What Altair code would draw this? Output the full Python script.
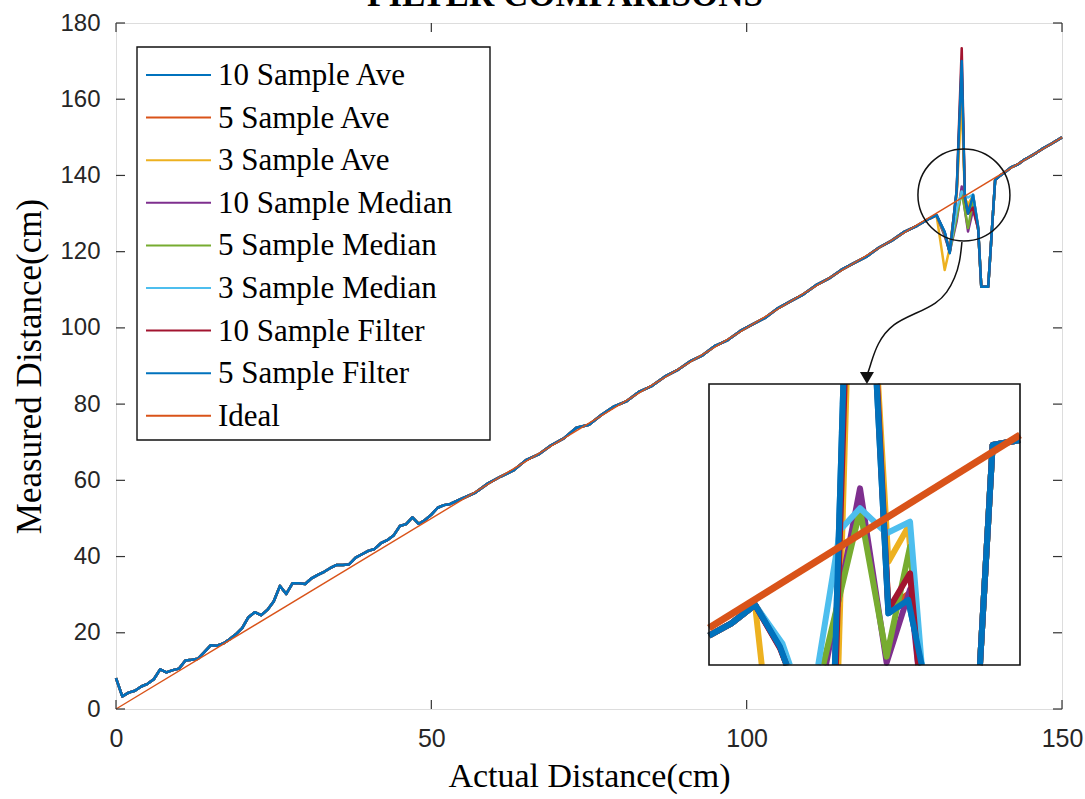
import altair as alt
import pandas as pd

# ---------------- data ----------------
TITLE = "FILTER COMPARISONS"
NAMES = ["10 Sample Ave", "5 Sample Ave", "3 Sample Ave", "10 Sample Median",
         "5 Sample Median", "3 Sample Median", "10 Sample Filter", "5 Sample Filter", "Ideal"]
COLORS = ["#0072BD", "#D95319", "#EDB120", "#7E2F8E", "#77AC30", "#4DBEEE",
          "#A2142F", "#0072BD", "#D95319"]

BASE_X = list(range(0, 54))
BASE_Y = [8.1, 3.3, 4.3, 4.8, 5.9, 6.6, 7.8, 10.4, 9.6, 10.2, 10.6, 12.7, 12.9, 13.2,
          14.9, 16.7, 16.6, 17.2, 18.3, 19.6, 21.2, 24.1, 25.4, 24.6, 26.0, 28.2, 32.3,
          30.2, 33.0, 33.0, 32.8, 34.3, 35.2, 36.0, 37.0, 37.8, 37.8, 38.0, 39.7, 40.6,
          41.5, 42.0, 43.5, 44.3, 45.5, 48.0, 48.5, 50.3, 48.6, 49.6, 51.0, 52.8, 53.5, 53.8]
MID_X = [55, 57, 59, 61, 63, 65, 67, 69, 71, 73, 75, 77, 79, 81, 83, 85, 87, 89, 91, 93,
         95, 97, 99, 101, 103, 105, 107, 109, 111, 113, 115, 117, 119, 121, 123, 125, 127,
         129, 130.1]
MID_Y = [55.3, 56.8, 59.2, 61.0, 62.6, 65.3, 66.8, 69.2, 71.0, 73.8, 74.6, 77.2, 79.4,
         80.8, 83.3, 84.8, 87.2, 88.9, 91.2, 92.8, 95.3, 96.8, 99.2, 101.0, 102.7, 105.2,
         107.0, 108.8, 111.2, 112.9, 115.2, 117.0, 118.7, 121.1, 122.9, 125.2, 126.8,
         128.7, 129.6]
SPIKE_X = [131.4, 132.2, 133.3, 134.1, 134.6, 135.1, 135.9, 136.7, 137.2, 138.3, 139.4]
SPIKE_Y = {
    "10 Sample Ave":    [125.0, 119.8, 136.0, 168.0, 134.0, 130.0, 134.5, 126.0, 110.8, 110.8, 138.8],
    "5 Sample Ave":     [124.5, 120.5, 135.5, 166.0, 134.5, 131.0, 134.8, 126.5, 110.8, 110.8, 138.8],
    "3 Sample Ave":     [115.2, 121.0, 135.0, 160.0, 134.0, 132.4, 134.7, 126.0, 110.8, 110.8, 138.8],
    "10 Sample Median": [124.0, 120.0, 128.0, 137.1, 131.0, 125.3, 131.0, 126.0, 110.8, 110.8, 138.8],
    "5 Sample Median":  [124.5, 120.0, 129.0, 135.7, 131.0, 126.2, 133.4, 126.0, 110.8, 110.8, 138.8],
    "3 Sample Median":  [125.0, 120.5, 131.0, 135.8, 134.8, 134.2, 135.0, 126.0, 110.8, 110.8, 138.8],
    "10 Sample Filter": [125.0, 119.8, 136.0, 173.4, 134.0, 130.0, 131.6, 126.0, 110.8, 110.8, 138.8],
    "5 Sample Filter":  [125.2, 119.6, 136.2, 170.0, 134.4, 130.0, 134.9, 126.6, 110.8, 110.8, 138.8],
}
TAIL_X = [140, 141, 142, 143, 144, 145, 146, 147, 148, 149, 150]
TAIL_Y = [139.7, 140.9, 142.2, 142.9, 144.1, 145.0, 146.0, 147.1, 148.0, 149.0, 150.0]

IDEAL_X = [0, 150]
IDEAL_Y = [0, 150]

X_TICKS = [0, 50, 100, 150]
Y_TICKS = [0, 20, 40, 60, 80, 100, 120, 140, 160, 180]

CIRCLE_X = [134.45]
CIRCLE_Y = [134.9]
ARROW_X = [134.13, 133.82, 133.03, 131.76, 130.17, 127.0, 123.2, 120.66, 119.55, 119.07]
ARROW_Y = [122.54, 117.29, 113.09, 109.16, 106.53, 103.9, 101.3, 96.0, 89.74, 87.5]
ARROW_HEAD_X = [119.07]
ARROW_HEAD_Y = [86.85]

# inset (zoomed view)
INSET_X_RANGE = [128.1, 140.6]
INSET_Y_RANGE = [125.7, 143.9]
INSET_LEFT_X = [128.1, 129.0, 129.95]
INSET_LEFT_Y = [127.6, 128.4, 129.6]
INSET_RIGHT_X = [138.99, 139.5, 140.6]
INSET_RIGHT_Y = [125.7, 139.95, 140.27]
INSET_SEGMENTS = {
    "10 Sample Ave": [
        ([130.95, 131.22], [126.9, 125.7]),
        ([133.16, 133.5], [125.7, 143.9]),
        ([134.84, 135.31, 136.11, 136.65], [143.9, 129.05, 129.91, 125.7])],
    "5 Sample Ave": [
        ([130.95, 131.22], [126.9, 125.7]),
        ([133.18, 133.52], [125.7, 143.9]),
        ([134.86, 135.31, 136.11, 136.62], [143.9, 129.4, 130.3, 125.7])],
    "3 Sample Ave": [
        ([130.22], [125.7]),
        ([133.3, 133.63], [125.7, 143.9]),
        ([134.9, 135.31, 136.11, 136.6], [143.9, 132.39, 134.66, 125.7])],
    "10 Sample Median": [
        ([131.0, 131.25], [126.7, 125.7]),
        ([132.8, 134.17, 135.24, 136.18, 136.5], [125.7, 137.14, 125.85, 130.6, 125.7])],
    "5 Sample Median": [
        ([131.05, 131.3], [126.9, 125.7]),
        ([132.69, 134.17, 135.24, 136.18, 136.6], [125.7, 135.74, 126.24, 133.36, 125.7])],
    "3 Sample Median": [
        ([131.05, 131.35], [127.1, 125.7]),
        ([132.49, 133.37, 134.17, 135.24, 136.18, 136.65], [125.7, 134.44, 135.85, 134.23, 134.98, 125.7])],
    "10 Sample Filter": [
        ([130.95, 131.22], [126.8, 125.7]),
        ([133.2, 133.55], [125.7, 143.9]),
        ([134.86, 135.31, 136.18, 136.51], [143.9, 129.3, 131.64, 125.7])],
    "5 Sample Filter": [
        ([130.95, 131.22], [126.9, 125.7]),
        ([133.16, 133.5], [125.7, 143.9]),
        ([134.84, 135.31, 136.11, 136.65], [143.9, 129.05, 129.91, 125.7])],
}

# ---------------- layout ----------------
W, H = 946, 686
SERIF = "Liberation Serif"
SANS = "Liberation Sans"

x_axis = alt.Axis(values=X_TICKS, grid=False, ticks=False, tickSize=0, domain=False,
                  labelFont=SANS, labelFontSize=25, labelColor="#262626",
                  labelPadding=17, labelFlush=False,
                  titleFont=SERIF, titleFontSize=34, titleFontWeight="normal",
                  titleColor="#000000", titlePadding=8)
y_axis = alt.Axis(values=Y_TICKS, grid=False, ticks=False, tickSize=0, domain=False,
                  labelFont=SANS, labelFontSize=24, labelColor="#262626",
                  labelPadding=16, labelFlush=False,
                  titleFont=SERIF, titleFontSize=35, titleFontWeight="normal",
                  titleColor="#000000", titlePadding=12)


def xenc(f):
    return alt.X(f"{f}:Q", scale=alt.Scale(domain=[0, 150], nice=False, zero=False),
                 axis=x_axis, title="Actual Distance(cm)")


def yenc(f):
    return alt.Y(f"{f}:Q", scale=alt.Scale(domain=[0, 180], nice=False, zero=False),
                 axis=y_axis, title="Measured Distance(cm)")


# ---------------- main plot ----------------
main_layers = []
for name, color in zip(NAMES[:-1], COLORS[:-1]):
    xs = BASE_X + MID_X + SPIKE_X + TAIL_X
    ys = BASE_Y + MID_Y + SPIKE_Y[name] + TAIL_Y
    df = pd.DataFrame({"x": xs, "y": ys})
    main_layers.append(
        alt.Chart(df).mark_line(strokeWidth=2.5, color=color, strokeJoin="round")
        .encode(x=xenc("x"), y=yenc("y"))
    )
main_layers.append(
    alt.Chart(pd.DataFrame({"x": IDEAL_X, "y": IDEAL_Y}))
    .mark_line(strokeWidth=1.4, color=COLORS[-1])
    .encode(x=xenc("x"), y=yenc("y"))
)

tick_x = pd.DataFrame({"t": X_TICKS})
tick_y = pd.DataFrame({"t": Y_TICKS})
TICK_COLOR = "#333333"
main_layers += [
    alt.Chart(tick_x).mark_rule(color=TICK_COLOR, strokeWidth=1.2)
    .encode(x=xenc("t"), y=alt.value(H), y2=alt.value(H - 9)),
    alt.Chart(tick_x).mark_rule(color=TICK_COLOR, strokeWidth=1.2)
    .encode(x=xenc("t"), y=alt.value(0), y2=alt.value(9)),
    alt.Chart(tick_y).mark_rule(color=TICK_COLOR, strokeWidth=1.2)
    .encode(y=yenc("t"), x=alt.value(0), x2=alt.value(9)),
    alt.Chart(tick_y).mark_rule(color=TICK_COLOR, strokeWidth=1.2)
    .encode(y=yenc("t"), x=alt.value(W), x2=alt.value(W - 9)),
]

main_layers += [
    alt.Chart(pd.DataFrame({"x": CIRCLE_X, "y": CIRCLE_Y}))
    .mark_point(shape="circle", size=8464, filled=False, color="#111111",
                strokeWidth=1.5, opacity=1)
    .encode(x=xenc("x"), y=yenc("y")),
    alt.Chart(pd.DataFrame({"x": ARROW_X, "y": ARROW_Y, "i": list(range(len(ARROW_X)))}))
    .mark_line(color="#111111", strokeWidth=1.5, interpolate="basis")
    .encode(x=xenc("x"), y=yenc("y"), order="i:Q"),
    alt.Chart(pd.DataFrame({"x": ARROW_HEAD_X, "y": ARROW_HEAD_Y}))
    .mark_point(shape="triangle-down", size=196, filled=True, color="#111111", opacity=1)
    .encode(x=xenc("x"), y=yenc("y")),
]
main = alt.layer(*main_layers)

# ---------------- inset ----------------
IX0, IX1, IY_TOP, IY_BOT = 593, 904, 361, 642


def ixenc(f):
    return alt.X(f"{f}:Q", scale=alt.Scale(domain=INSET_X_RANGE, range=[IX0, IX1],
                                           nice=False, zero=False), axis=None)


def iyenc(f):
    return alt.Y(f"{f}:Q", scale=alt.Scale(domain=INSET_Y_RANGE, range=[IY_BOT, IY_TOP],
                                           nice=False, zero=False), axis=None)


box_df = pd.DataFrame({"x0": [INSET_X_RANGE[0]], "x1": [INSET_X_RANGE[1]],
                       "y0": [INSET_Y_RANGE[0]], "y1": [INSET_Y_RANGE[1]]})
inset_layers = [
    alt.Chart(box_df).mark_rect(fill="white", stroke=None)
    .encode(x=ixenc("x0"), x2="x1", y=iyenc("y0"), y2="y1")
]
for name, color in zip(NAMES[:-1], COLORS[:-1]):
    rows = []
    segs = [(INSET_LEFT_X + INSET_SEGMENTS[name][0][0], INSET_LEFT_Y + INSET_SEGMENTS[name][0][1])]
    segs += INSET_SEGMENTS[name][1:]
    segs.append((INSET_RIGHT_X, INSET_RIGHT_Y))
    for k, (sx, sy) in enumerate(segs):
        for i, (a, b) in enumerate(zip(sx, sy)):
            rows.append({"seg": k, "i": i, "x": a, "y": b})
    inset_layers.append(
        alt.Chart(pd.DataFrame(rows)).mark_line(strokeWidth=6, color=color, strokeJoin="round")
        .encode(x=ixenc("x"), y=iyenc("y"), detail="seg:N", order="i:Q")
    )
inset_layers.append(
    alt.Chart(pd.DataFrame({"x": INSET_X_RANGE, "y": INSET_X_RANGE}))
    .mark_line(strokeWidth=7, color="#D95319")
    .encode(x=ixenc("x"), y=iyenc("y"))
)
inset_layers.append(
    alt.Chart(box_df).mark_rect(fill=None, stroke="#111111", strokeWidth=1.6)
    .encode(x=ixenc("x0"), x2="x1", y=iyenc("y0"), y2="y1")
)
inset = alt.layer(*inset_layers)

# ---------------- legend + title (pixel space) ----------------
px_y = alt.Scale(domain=[0, H], range=[0, H], nice=False, zero=False)
leg_df = pd.DataFrame({"name": NAMES, "ly": [52 + 42.6 * i for i in range(len(NAMES))]})
legend = alt.layer(
    alt.Chart(pd.DataFrame({"a": [0]})).mark_rect(fill="white", stroke="#111111", strokeWidth=1.4)
    .encode(x=alt.value(21), x2=alt.value(374), y=alt.value(24), y2=alt.value(417)),
    alt.Chart(leg_df).mark_rule(strokeWidth=2)
    .encode(x=alt.value(30), x2=alt.value(95),
            y=alt.Y("ly:Q", scale=px_y, axis=None),
            color=alt.Color("name:N", scale=alt.Scale(domain=NAMES, range=COLORS), legend=None)),
    alt.Chart(leg_df).mark_text(font=SERIF, fontSize=31, align="left", baseline="middle",
                                color="#000000", dy=1)
    .encode(x=alt.value(102), y=alt.Y("ly:Q", scale=px_y, axis=None), text="name:N"),
    alt.Chart(pd.DataFrame({"t": [TITLE]})).mark_text(
        font=SERIF, fontSize=35, fontWeight="bold", align="center",
        baseline="alphabetic", color="#000000")
    .encode(x=alt.value(449), y=alt.value(-17), text="t:N"),
)

chart = (
    alt.layer(main, inset, legend)
    .resolve_scale(x="independent", y="independent", color="independent")
    .properties(
        width=W, height=H,
        autosize=alt.AutoSizeParams(type="none"),
        padding={"left": 116, "top": 23, "right": 23, "bottom": 90},
    )
    .configure_view(stroke="#404040", strokeWidth=1.5)
    .configure(background="white")
)

chart.save("out.html", embed_options={"renderer": "svg", "actions": False})
